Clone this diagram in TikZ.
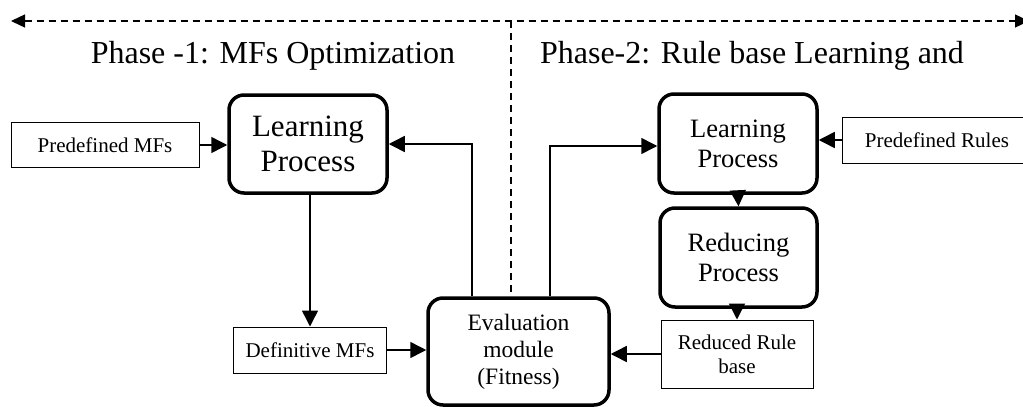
\documentclass[tikz,border=0pt]{standalone}
\usepackage{fontspec}
\setmainfont{Liberation Serif}
\usetikzlibrary{arrows.meta}

\tikzset{
  thinbox/.style={draw, line width=1pt, inner sep=0pt, align=center},
  procbox/.style={draw, line width=3.5pt, rounded corners=15pt, inner sep=0pt, align=center},
  flow/.style={line width=1.5pt, -{Triangle[length=16pt,width=16pt]}},
  phaseline/.style={line width=1.3pt, dash pattern=on 7pt off 5pt},
  phasetitle/.style={inner sep=0pt, anchor=base, font=\fontsize{32}{36}\selectfont},
}

\begin{document}
\begin{tikzpicture}[x=1pt,y=-1pt]
\useasboundingbox (0,0) rectangle (1023,407);

% phase separator
\coordinate (pl) at (11,21);
\coordinate (pr) at (1029,21);
\coordinate (ptop) at (511,21);
\coordinate (pbot) at (511,296);
\draw[phaseline, {Triangle[length=14pt,width=13pt]}-{Triangle[length=14pt,width=13pt]}] (pl) -- (pr);
\draw[phaseline] (ptop) -- (pbot);

\node[phasetitle] (t1) at (273,63) {Phase -1: MFs Optimization};
\node[phasetitle] (t2) at (752,63) {Phase-2: Rule base Learning and};

% phase 1
\node[procbox, minimum width=158pt, minimum height=98pt,
      font=\fontsize{31}{35}\selectfont] (lp1) at (308,144) {Learning\\Process};
\node[thinbox, minimum width=188pt, minimum height=45pt,
      font=\fontsize{21}{24}\selectfont] (pmf) at (105,145) {Predefined MFs};
\node[thinbox, minimum width=153pt, minimum height=46pt,
      font=\fontsize{21}{24}\selectfont] (dmf) at (310,350) {Definitive MFs};

% evaluation
\node[procbox, minimum width=181pt, minimum height=107pt,
      font=\fontsize{23.5}{27}\selectfont] (ev) at (518.5,351.5) {Evaluation\\module\\(Fitness)};

% phase 2
\node[procbox, minimum width=158pt, minimum height=99pt,
      font=\fontsize{26.5}{30}\selectfont] (lp2) at (738,143.5) {Learning\\Process};
\node[procbox, minimum width=157pt, minimum height=99pt,
      font=\fontsize{26.5}{30}\selectfont] (rp) at (738.5,257.5) {Reducing\\Process};
\node[thinbox, minimum width=190pt, minimum height=46pt,
      font=\fontsize{21}{24}\selectfont] (prl) at (937,140) {Predefined Rules};
\node[thinbox, minimum width=152pt, minimum height=68pt,
      font=\fontsize{21}{24}\selectfont] (rrb) at (737,354) {Reduced Rule\\base};

% connectors
\draw[flow] (pmf.east) -- (pmf.east -| lp1.west);
\draw[flow] (lp1.south -| dmf.north) -- (dmf.north);
\draw[flow] (dmf.east) -- (dmf.east -| ev.west);
\draw[flow] (ev.north -| 472,0) |- (lp1.east);
\draw[flow] (ev.north -| 550,0) |- (lp2.west |- 0,146);
\draw[flow] (prl.west) -- (prl.west -| lp2.east);
\draw[flow] (lp2.south) -- (rp.north);
\draw[flow] (rp.south -| rrb.north) -- (rrb.north);
\draw[flow] (rrb.west) -- (rrb.west -| ev.east);
\end{tikzpicture}
\end{document}
